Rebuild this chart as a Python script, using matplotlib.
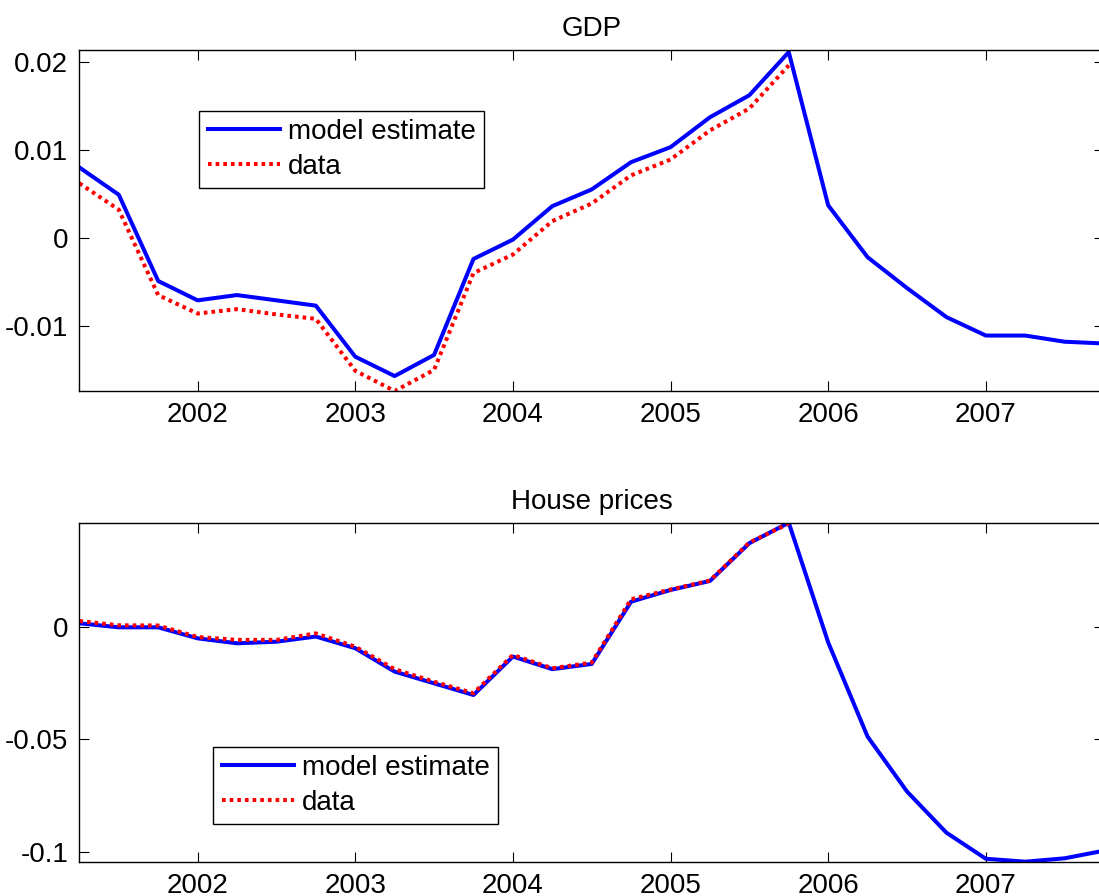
import numpy as np
from matplotlib import pyplot as plt
from matplotlib.ticker import FuncFormatter

plt.rcParams['font.family'] = ['Liberation Sans', 'DejaVu Sans']

# quarters 2001Q2 .. 2007Q4
quarters = [2001.25, 2001.5, 2001.75, 2002.0, 2002.25, 2002.5, 2002.75,
            2003.0, 2003.25, 2003.5, 2003.75, 2004.0, 2004.25, 2004.5,
            2004.75, 2005.0, 2005.25, 2005.5, 2005.75, 2006.0, 2006.25,
            2006.5, 2006.75, 2007.0, 2007.25, 2007.5, 2007.75]

gdp_model = [0.0080, 0.0049, -0.0049, -0.0071, -0.0065, -0.0071, -0.0077,
             -0.0135, -0.0157, -0.0133, -0.0024, -0.0002, 0.0036, 0.0055,
             0.0086, 0.0103, 0.0137, 0.0162, 0.0211, 0.0037, -0.0022,
             -0.0057, -0.0090, -0.0111, -0.0111, -0.0118, -0.0120]
gdp_data = [0.0062, 0.0032, -0.0065, -0.0086, -0.0081, -0.0087, -0.0092,
            -0.0151, -0.0174, -0.0150, -0.0040, -0.0019, 0.0019, 0.0039,
            0.0071, 0.0089, 0.0122, 0.0147, 0.0196]

house_model = [0.0015, -0.0003, -0.0003, -0.0052, -0.0074, -0.0067, -0.0044,
               -0.0096, -0.0200, -0.0252, -0.0304, -0.0133, -0.0189, -0.0166,
               0.0111, 0.0163, 0.0203, 0.0371, 0.0462, -0.0070, -0.0489,
               -0.0733, -0.0916, -0.1032, -0.1045, -0.1030, -0.0996]
house_data = [0.0025, 0.0006, 0.0005, -0.0046, -0.0059, -0.0059, -0.0030,
              -0.0089, -0.0189, -0.0245, -0.0296, -0.0126, -0.0185, -0.0160,
              0.0122, 0.0165, 0.0205, 0.0374, 0.0458]

year_ticks = [2002, 2003, 2004, 2005, 2006, 2007]

fig = plt.figure(figsize=(10.99, 8.96), dpi=100)
ax1 = fig.add_axes([0.0722, 0.5636, 0.9324, 0.3802])
ax2 = fig.add_axes([0.0722, 0.0383, 0.9324, 0.3783])

fs = 20
panels = [
    (ax1, gdp_model, gdp_data, "GDP", (-0.0174, 0.0213), [-0.01, 0, 0.01, 0.02], (0.1171, 0.595)),
    (ax2, house_model, house_data, "House prices", (-0.1045, 0.0462), [-0.1, -0.05, 0], (0.1308, 0.110)),
]
for ax, model, data, title, ylim, yt, leg_pos in panels:
    ax.plot(quarters, model, color="blue", lw=2.9, label="model estimate")
    ax.plot(quarters[:len(data)], data, color="red", lw=2.9,
            linestyle=(0, (0.9, 1.0)), label="data")
    ax.set_xlim(2001.25, 2007.75)
    ax.set_ylim(*ylim)
    ax.set_xticks(year_ticks)
    ax.set_xticklabels([str(y) for y in year_ticks])
    ax.set_yticks(yt)
    ax.yaxis.set_major_formatter(FuncFormatter(lambda v, p: "%g" % v))
    ax.tick_params(direction="in", top=True, right=True, length=7,
                   width=0.8, labelsize=fs, pad=8)
    for s in ax.spines.values():
        s.set_linewidth(1.0)
    ax.set_title(title, fontsize=fs, pad=10)
    leg = ax.legend(loc="lower left", bbox_to_anchor=leg_pos, borderaxespad=0,
                    fontsize=fs, fancybox=False, framealpha=1, edgecolor="black",
                    handlelength=2.6, handletextpad=0.3, borderpad=0.3,
                    labelspacing=0.32)
    leg.get_frame().set_linewidth(1.0)

fig.savefig("out.png", dpi=100)
